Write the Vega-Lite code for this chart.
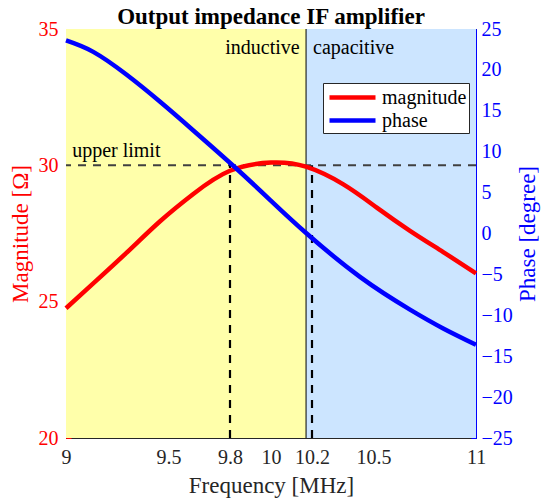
{
  "$schema": "https://vega.github.io/schema/vega-lite/v6.json",
  "autosize": "none",
  "width": 410,
  "height": 409,
  "padding": {"left": 66, "top": 29, "right": 71, "bottom": 65},
  "config": {
    "view": {"stroke": "black", "strokeWidth": 1},
    "font": "Liberation Serif",
    "axis": {"labelFont": "Liberation Serif", "titleFont": "Liberation Serif", "labelFontSize": 20, "titleFontSize": 23, "titleFontWeight": "normal", "grid": false}
  },
  "datasets": {
    "mag": [
      {"f": 9.0, "mag": 24.76, "series": "magnitude"},
      {"f": 9.133, "mag": 25.67, "series": "magnitude"},
      {"f": 9.296, "mag": 26.8, "series": "magnitude"},
      {"f": 9.459, "mag": 27.95, "series": "magnitude"},
      {"f": 9.621, "mag": 28.95, "series": "magnitude"},
      {"f": 9.8, "mag": 29.8, "series": "magnitude"},
      {"f": 10.0, "mag": 30.1, "series": "magnitude"},
      {"f": 10.17, "mag": 29.95, "series": "magnitude"},
      {"f": 10.353, "mag": 29.3, "series": "magnitude"},
      {"f": 10.516, "mag": 28.45, "series": "magnitude"},
      {"f": 10.678, "mag": 27.6, "series": "magnitude"},
      {"f": 10.84, "mag": 26.82, "series": "magnitude"},
      {"f": 11.0, "mag": 26.04, "series": "magnitude"}
    ],
    "phase": [
      {"f": 9.0, "phase": 23.6, "series": "phase"},
      {"f": 9.133, "phase": 22.2, "series": "phase"},
      {"f": 9.296, "phase": 19.4, "series": "phase"},
      {"f": 9.459, "phase": 16.1, "series": "phase"},
      {"f": 9.621, "phase": 12.6, "series": "phase"},
      {"f": 9.824, "phase": 8.1, "series": "phase"},
      {"f": 10.0, "phase": 4.0, "series": "phase"},
      {"f": 10.174, "phase": 0.0, "series": "phase"},
      {"f": 10.434, "phase": -5.3, "series": "phase"},
      {"f": 10.678, "phase": -9.3, "series": "phase"},
      {"f": 10.84, "phase": -11.6, "series": "phase"},
      {"f": 11.0, "phase": -13.6, "series": "phase"}
    ],
    "regions": [
      {"start": 9.0, "end": 10.171, "region": "inductive"},
      {"start": 10.171, "end": 11.0, "region": "capacitive"}
    ]
  },
  "layer": [
    {
      "layer": [
        {
          "data": {"name": "regions"},
          "mark": {"type": "rect"},
          "encoding": {
            "x": {"field": "start", "type": "quantitative"},
            "x2": {"field": "end"},
            "fill": {"field": "region", "type": "nominal", "scale": {"domain": ["inductive", "capacitive"], "range": ["#FFFFAA", "#CCE5FF"]}, "legend": null}
          }
        },
        {
          "data": {"values": [{}]},
          "mark": {"type": "rule", "color": "black", "strokeWidth": 1},
          "encoding": {"x": {"datum": 10.171, "type": "quantitative"}}
        },
        {
          "data": {"values": [{}]},
          "mark": {"type": "rule", "color": "#404040", "strokeWidth": 2, "strokeDash": [8, 7]},
          "encoding": {"y": {"datum": 30, "type": "quantitative"}}
        },
        {
          "data": {"values": [{}]},
          "mark": {"type": "rule", "color": "black", "strokeWidth": 2.2, "strokeDash": [8, 7]},
          "encoding": {"x": {"datum": 9.8, "type": "quantitative"}, "y": {"datum": 20, "type": "quantitative"}, "y2": {"datum": 30}}
        },
        {
          "data": {"values": [{}]},
          "mark": {"type": "rule", "color": "black", "strokeWidth": 2.2, "strokeDash": [8, 7]},
          "encoding": {"x": {"datum": 10.2, "type": "quantitative"}, "y": {"datum": 20, "type": "quantitative"}, "y2": {"datum": 30}}
        },
        {
          "data": {"values": [{}]},
          "mark": {"type": "text", "text": "Output impedance IF amplifier", "align": "center", "baseline": "alphabetic", "fontSize": 23, "fontWeight": "bold", "font": "Liberation Serif", "color": "black"},
          "encoding": {"x": {"datum": 10.0, "type": "quantitative"}, "y": {"datum": 35.18, "type": "quantitative"}}
        },
        {
          "data": {"values": [{}]},
          "mark": {"type": "text", "text": "upper limit", "align": "left", "baseline": "alphabetic", "fontSize": 20, "font": "Liberation Serif", "color": "black"},
          "encoding": {"x": {"datum": 9.03, "type": "quantitative"}, "y": {"datum": 30.29, "type": "quantitative"}}
        },
        {
          "data": {"values": [{}]},
          "mark": {"type": "text", "text": "inductive", "align": "right", "baseline": "alphabetic", "fontSize": 20, "font": "Liberation Serif", "color": "black"},
          "encoding": {"x": {"datum": 10.14, "type": "quantitative"}, "y": {"datum": 34.08, "type": "quantitative"}}
        },
        {
          "data": {"values": [{}]},
          "mark": {"type": "text", "text": "capacitive", "align": "left", "baseline": "alphabetic", "fontSize": 20, "font": "Liberation Serif", "color": "black"},
          "encoding": {"x": {"datum": 10.205, "type": "quantitative"}, "y": {"datum": 34.08, "type": "quantitative"}}
        },
        {
          "data": {"name": "mag"},
          "mark": {"type": "line", "strokeWidth": 4.5, "interpolate": "natural"},
          "encoding": {
            "x": {"field": "f", "type": "quantitative", "scale": {"domain": [9, 11], "nice": false, "zero": false},
                  "axis": {"title": "Frequency [MHz]", "values": [9, 9.5, 9.8, 10, 10.2, 10.5, 11], "format": "~g", "labelColor": "#262626", "titleColor": "#262626", "domainColor": "#262626", "tickColor": "#262626", "labelPadding": 14, "titlePadding": 7, "tickSize": -5, "labelFlush": false}},
            "y": {"field": "mag", "type": "quantitative", "scale": {"domain": [20, 35], "nice": false, "zero": false},
                  "axis": {"title": "Magnitude [Ω]", "orient": "left", "values": [20, 25, 30, 35], "labelColor": "#FF0000", "titleColor": "#FF0000", "domainColor": "#FF0000", "tickColor": "#FF0000", "labelPadding": 13, "titlePadding": 6, "tickSize": -5}},
            "color": {"field": "series", "type": "nominal", "scale": {"domain": ["magnitude", "phase"], "range": ["#FF0000", "#0000FF"]},
                      "legend": {"orient": "none", "legendX": 257, "legendY": 54, "title": null, "fillColor": "white", "strokeColor": "#262626", "padding": 2, "symbolType": "M-0.8,0H3.8", "symbolStrokeWidth": 4.5, "symbolSize": 400, "labelFont": "Liberation Serif", "labelFontSize": 20, "labelColor": "black", "labelOffset": 32, "rowPadding": -1}}
          }
        }
      ]
    },
    {
      "data": {"name": "phase"},
      "mark": {"type": "line", "strokeWidth": 4.5, "interpolate": "natural"},
      "encoding": {
        "x": {"field": "f", "type": "quantitative"},
        "y": {"field": "phase", "type": "quantitative", "scale": {"domain": [-25, 25], "nice": false, "zero": false},
              "axis": {"title": "Phase [degree]", "orient": "right", "values": [-25, -20, -15, -10, -5, 0, 5, 10, 15, 20, 25], "labelColor": "#0000FF", "titleColor": "#0000FF", "domainColor": "#0000FF", "tickColor": "#0000FF", "titleAngle": -90, "labelPadding": 10, "titlePadding": 27, "tickSize": -5}},
        "color": {"field": "series", "type": "nominal"}
      }
    }
  ],
  "resolve": {"scale": {"y": "independent"}}
}
